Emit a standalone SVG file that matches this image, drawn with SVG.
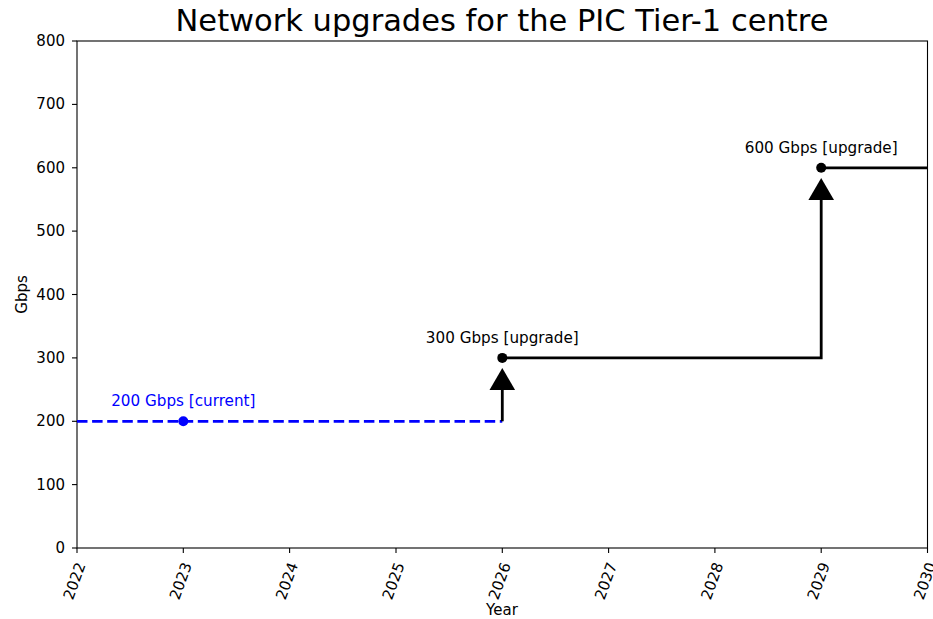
<svg xmlns="http://www.w3.org/2000/svg" width="933" height="619" viewBox="0 0 933 619">
<style>
text{font-family:"DejaVu Sans","Liberation Sans",sans-serif;fill:#000}
.tk{font-size:15px}
.yl{text-anchor:end;dominant-baseline:central}
.xl{text-anchor:middle;dominant-baseline:central}
.ann{font-size:15.2px;text-anchor:middle}
.spine{fill:none;stroke:#000;stroke-width:1.1}
.tick{stroke:#000;stroke-width:1.1}
.step{fill:none;stroke:#000;stroke-width:2.8;stroke-linejoin:miter}
</style>
<rect width="933" height="619" fill="#fff"/>
<text x="502" y="31" style="font-size:30.5px;text-anchor:middle">Network upgrades for the PIC Tier-1 centre</text>
<g id="axes">
<rect class="spine" x="77" y="41" width="850.5" height="507"/>
<g class="tick">
<line x1="72" y1="548" x2="77" y2="548"/><line x1="72" y1="484.6" x2="77" y2="484.6"/><line x1="72" y1="421.3" x2="77" y2="421.3"/><line x1="72" y1="357.9" x2="77" y2="357.9"/><line x1="72" y1="294.5" x2="77" y2="294.5"/><line x1="72" y1="231.1" x2="77" y2="231.1"/><line x1="72" y1="167.8" x2="77" y2="167.8"/><line x1="72" y1="104.4" x2="77" y2="104.4"/><line x1="72" y1="41" x2="77" y2="41"/>
<line x1="77" y1="548" x2="77" y2="553"/><line x1="183.3" y1="548" x2="183.3" y2="553"/><line x1="289.6" y1="548" x2="289.6" y2="553"/><line x1="396" y1="548" x2="396" y2="553"/><line x1="502.3" y1="548" x2="502.3" y2="553"/><line x1="608.6" y1="548" x2="608.6" y2="553"/><line x1="714.9" y1="548" x2="714.9" y2="553"/><line x1="821.2" y1="548" x2="821.2" y2="553"/><line x1="927.5" y1="548" x2="927.5" y2="553"/>
</g>
<g class="tk yl">
<text x="65" y="548">0</text><text x="65" y="484.6">100</text><text x="65" y="421.3">200</text><text x="65" y="357.9">300</text><text x="65" y="294.5">400</text><text x="65" y="231.1">500</text><text x="65" y="167.8">600</text><text x="65" y="104.4">700</text><text x="65" y="41">800</text>
</g>
<g class="tk xl">
<text transform="translate(74.5,581) rotate(-70)">2022</text>
<text transform="translate(180.8,581) rotate(-70)">2023</text>
<text transform="translate(287.1,581) rotate(-70)">2024</text>
<text transform="translate(393.5,581) rotate(-70)">2025</text>
<text transform="translate(499.8,581) rotate(-70)">2026</text>
<text transform="translate(606.1,581) rotate(-70)">2027</text>
<text transform="translate(712.4,581) rotate(-70)">2028</text>
<text transform="translate(818.7,581) rotate(-70)">2029</text>
<text transform="translate(925,581) rotate(-70)">2030</text>
</g>
<text x="502" y="615" style="font-size:15px;text-anchor:middle">Year</text>
<text transform="translate(27,294.5) rotate(-90)" style="font-size:15px;text-anchor:middle">Gbps</text>
</g>
<g id="connectors">
<line x1="77" y1="421.3" x2="502.3" y2="421.3" stroke="#0000ff" stroke-width="2.8" stroke-dasharray="10.5,4.6"/>
<polyline class="step" points="502.3,421.3 502.3,388"/>
<polygon points="502.3,368 489.5,390 515.1,390" fill="#000"/>
<polyline class="step" points="502.3,357.9 821.2,357.9 821.2,198"/>
<polygon points="821.2,178 808.4,200 834,200" fill="#000"/>
<line class="step" x1="821.2" y1="167.8" x2="927.5" y2="167.8"/>
</g>
<g id="node-current">
<circle cx="183.3" cy="421.3" r="5" fill="#0000ff"/>
<text x="183.3" y="406" class="ann" style="fill:#0000ff">200 Gbps [current]</text>
</g>
<g id="node-2026">
<circle cx="502.3" cy="357.9" r="5" fill="#000"/>
<text x="502.3" y="343" class="ann">300 Gbps [upgrade]</text>
</g>
<g id="node-2029">
<circle cx="821.2" cy="167.8" r="5" fill="#000"/>
<text x="821.2" y="153" class="ann">600 Gbps [upgrade]</text>
</g>
</svg>
